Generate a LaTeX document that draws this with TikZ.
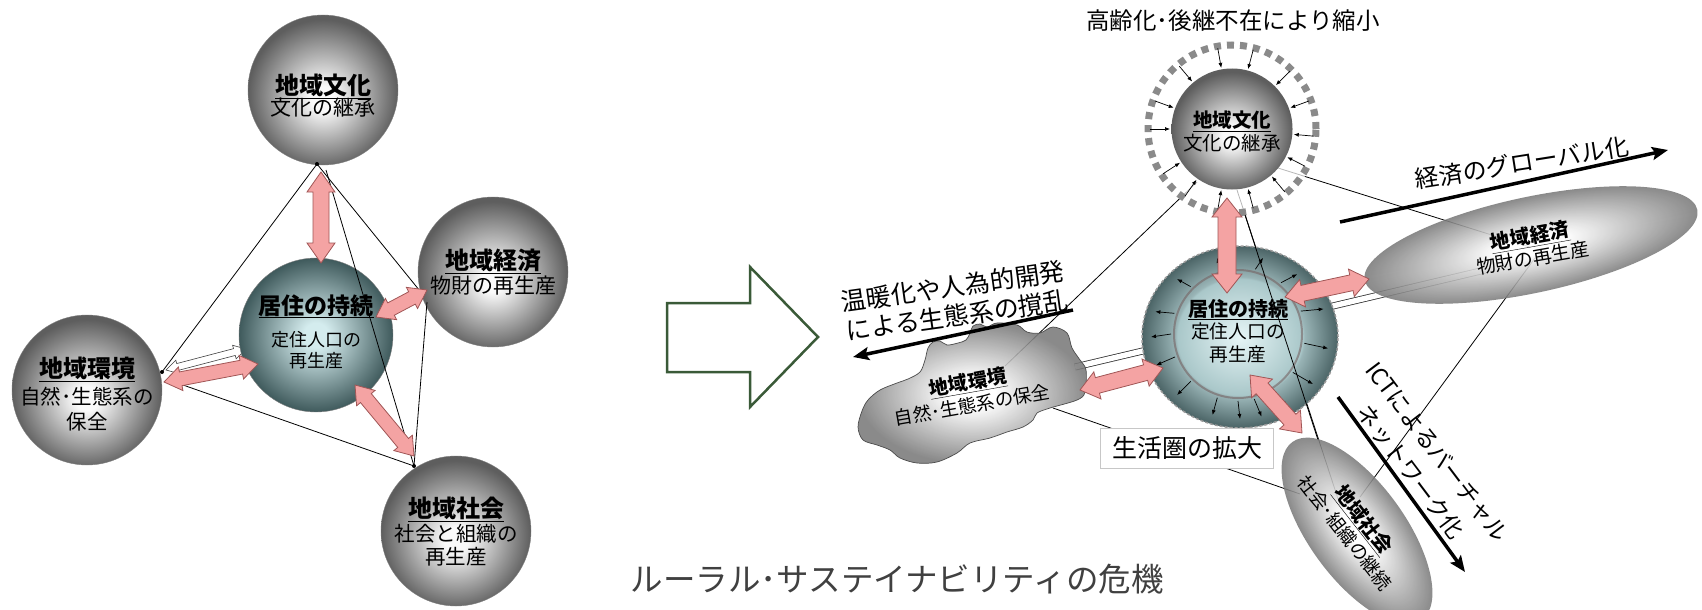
\documentclass[tikz,border=0pt]{standalone}
\usepackage{fontspec}
\setmainfont{Noto Sans CJK JP}
\usetikzlibrary{calc,arrows.meta}
\newcommand\fsz[1]{\fontsize{#1}{#1}\selectfont}
\definecolor{pinkf}{HTML}{F4A3A3}
\definecolor{pinkd}{HTML}{A05656}
\definecolor{ggA}{HTML}{FAFAFA}
\definecolor{ggB}{HTML}{5E5E5E}
\definecolor{tA}{HTML}{D4ECEE}
\definecolor{tB}{HTML}{3F5A5C}
\definecolor{rA}{HTML}{E6F5F6}
\definecolor{rB}{HTML}{A9C7C9}
\definecolor{rC}{HTML}{9AB5B7}
\definecolor{rD}{HTML}{4B6466}
\definecolor{eB}{HTML}{7A7A7A}
\definecolor{arrg}{HTML}{3A5A38}
\definecolor{ringg}{HTML}{8A8A8A}
\pgfdeclareradialshading{gballsh}{\pgfpoint{0bp}{-3bp}}{color(0bp)=(ggA); color(4bp)=(ggA); color(25bp)=(ggB); color(50bp)=(ggB)}
\pgfdeclareradialshading{tballsh}{\pgfpoint{0bp}{0bp}}{color(0bp)=(tA); color(4bp)=(tA); color(25bp)=(tB); color(50bp)=(tB)}
\pgfdeclareradialshading{tringsh}{\pgfpoint{0bp}{0bp}}{color(0bp)=(rA); color(16bp)=(rB); color(16.5bp)=(rC); color(25bp)=(rD); color(50bp)=(rD)}
\pgfdeclareradialshading{gellsh}{\pgfpoint{0bp}{0bp}}{color(0bp)=(white); color(5bp)=(white); color(25bp)=(eB); color(50bp)=(eB)}
\newcommand{\dblarr}[6][pinkarr]{%
  \path[#1] let \p1=($(#3)-(#2)$), \n1={atan2(\y1,\x1)}, \n2={veclen(\x1,\y1)} in
  (#2) -- ($(#2)+(\n1:#6)+(\n1+90:#5)$) -- ($(#2)+(\n1:#6)+(\n1+90:#4)$)
  -- ($(#2)+(\n1:\n2-#6)+(\n1+90:#4)$) -- ($(#2)+(\n1:\n2-#6)+(\n1+90:#5)$) -- (#3)
  -- ($(#2)+(\n1:\n2-#6)+(\n1-90:#5)$) -- ($(#2)+(\n1:\n2-#6)+(\n1-90:#4)$)
  -- ($(#2)+(\n1:#6)+(\n1-90:#4)$) -- ($(#2)+(\n1:#6)+(\n1-90:#5)$) -- cycle;}
\tikzset{
  pinkarr/.style={fill=pinkf, draw=pinkd, line width=0.8pt, line join=miter},
  ghostarr/.style={fill=white, draw=black!75, line width=0.6pt},
  thinline/.style={draw=black, line width=0.8pt},
  smallarr/.style={-{Latex[length=5pt,width=4pt]}, line width=0.7pt},
  bigarr/.style={line width=3.5pt, -{Stealth[length=16pt,width=13pt,inset=3pt]}},
  gball/.style={circle, shade, shading=gballsh, draw=black!50, line width=0.4pt, inner sep=0pt},
  tball/.style={circle, shade, shading=tballsh, draw=black!50, line width=0.4pt, inner sep=0pt},
  lt/.style={font=\fsz{24}\bfseries, anchor=base, inner sep=0pt},
  ls/.style={font=\fsz{21}, anchor=base, inner sep=0pt},
  rt/.style={font=\fsz{20}\bfseries, inner sep=0pt},
  rs/.style={font=\fsz{19}, inner sep=0pt},
  dot/.style={fill=black, circle, inner sep=0pt, minimum size=5pt}
}
\begin{document}
\begin{tikzpicture}[x=1pt,y=1pt]
\useasboundingbox (0,0) rectangle (1702,-610);
% ================= LEFT =================
\coordinate (Lp) at (317,-164);
\coordinate (Lp2) at (326,-170);
\coordinate (LE) at (162,-372);
\coordinate (LE2) at (183,-385);
\coordinate (LC) at (424,-296);
\coordinate (LC2) at (427,-302);
\coordinate (LS) at (414,-466);
% ghost arrow
\coordinate (lg1) at (166,-370); \coordinate (lg2) at (246,-349);
\dblarr[ghostarr]{lg1}{lg2}{3.5}{7}{12}
% balls
\node[gball, minimum size=150] (lcult) at (323,-90) {};
\node[gball, minimum size=150] (lecon) at (493,-272) {};
\node[gball, minimum size=150] (lenv) at (87,-390) {};
\node[gball, minimum size=150] (lsoc) at (456,-531) {};
\node[tball, minimum size=154] (lcent) at (316,-335) {};
% lines
\draw[thinline] (Lp) -- (LE);
\draw[thinline] (Lp) -- (LC);
\draw[thinline] (Lp2) -- (LS);
\draw[thinline] (LE2) -- (LS);
\draw[thinline] (LC2) -- (LS);
\node[dot, minimum size=4pt] (dp) at (Lp) {};
\node[dot, minimum size=4pt] (de) at (LE) {};
\node[dot, minimum size=4pt] (ds) at (LS) {};
% pink arrows
\coordinate (la1) at (321,-172); \coordinate (la2) at (321,-263);
\coordinate (lb1) at (376,-317); \coordinate (lb2) at (427,-290);
\coordinate (lc1) at (164,-382); \coordinate (lc2) at (258,-364);
\coordinate (ld1) at (355,-385); \coordinate (ld2) at (414,-456);
\dblarr{la1}{la2}{8}{14}{20}
\dblarr{lb1}{lb2}{7}{12}{17}
\dblarr{lc1}{lc2}{7}{12}{17}
\dblarr{ld1}{ld2}{7}{12}{17}
% texts
\node[lt] (lcultT) at (323,-94) {\underline{地域文化}};
\node[ls] (lcultS) at (323,-115) {文化の継承};
\node[lt] (leconT) at (493,-269) {\underline{地域経済}};
\node[ls] (leconS) at (493,-293) {物財の再生産};
\node[lt, font=\fsz{23}\bfseries] (lcentT) at (316,-314) {\underline{居住の持続}};
\node[ls, font=\fsz{18}] (lcentS) at (316,-346) {定住人口の};
\node[ls, font=\fsz{18}] (lcentS2) at (316,-367) {再生産};
\node[lt] (lenvT) at (87,-377) {\underline{地域環境}};
\node[ls, font=\fsz{20.5}] (lenvS) at (87,-404) {自然･生態系の};
\node[ls, font=\fsz{20.5}] (lenvS2) at (87,-429) {保全};
\node[lt] (lsocT) at (456,-517) {\underline{地域社会}};
\node[ls, font=\fsz{20.5}] (lsocS) at (456,-541) {社会と組織の};
\node[ls, font=\fsz{20.5}] (lsocS2) at (456,-564) {再生産};
% ================= BIG ARROW =================
\draw[arrg, line width=2.5pt, line join=miter] (667,-303) -- (750,-303) -- (750,-267) -- (818,-337) -- (750,-407) -- (750,-372) -- (667,-372) -- cycle;
% ================= RIGHT =================
\coordinate (cult2) at (1232,-129);
\coordinate (cent2) at (1240,-337);
\coordinate (cin) at (1238,-334);
\coordinate (econ2) at (1531,-245);
\coordinate (soc2) at (1357,-531);
% connector lines
\coordinate (r1a) at (1197,-182); \coordinate (r1b) at (1005,-366);
\coordinate (r2a) at (1278,-168); \coordinate (r2b) at (1530,-247);
\coordinate (r3a) at (1237,-190); \coordinate (r3b) at (1340,-505);
\coordinate (r3c) at (1245,-215); \coordinate (r3d) at (1318,-440);
\coordinate (r4a) at (1053,-408); \coordinate (r4b) at (1300,-494);
\coordinate (r5a) at (1535,-258); \coordinate (r5b) at (1360,-497);
\coordinate (bnd1) at (1075,-367); \coordinate (bnd2) at (1485,-270);
\draw[thinline] (r1a) -- (r1b);
\draw[thinline] (r2a) -- (r2b);
\draw[thinline] (r3a) -- (r3b);
\draw[thinline] (r4a) -- (r4b);
\draw[thinline] (r5a) -- (r5b);
\draw[black!80, line width=7pt] (bnd1) -- (bnd2);
\draw[white, line width=5.4pt] (bnd1) -- (bnd2);
% culture ring
\fill[white, fill opacity=0.72] (cult2) circle (87);
\draw[ringg, line width=7pt, dash pattern=on 7pt off 6pt] (cult2) circle (84);
\node[gball, minimum size=121, draw=none] (rcult) at (cult2) {};
\foreach \a in {100,75,45,20,-5,-27,-50,-75,-100,-125,-147,180,160,130}
  \draw[smallarr] ($(cult2)+(\a:82)$) -- ($(cult2)+(\a:62)$);
\node[rt, font=\fsz{19.5}\bfseries, anchor=base] (rcultT) at (1232,-127.5) {\underline{地域文化}};
\node[rs, font=\fsz{19.5}, anchor=base] (rcultS) at (1232,-150) {文化の継承};
% centre
\shade[shading=tringsh] (cent2) ellipse [x radius=98, y radius=91];
\draw[black!40, line width=1.5pt, dash pattern=on 3pt off 2pt] (cent2) ellipse [x radius=98, y radius=91];
\draw[black!35!pinkd!40!gray, line width=2pt, opacity=0.6] (cin) circle (64);
\foreach \a in {105,75,50,20,-8,-35,-58,-76,-90,-108,-135,-160,180,162,135}
  \draw[smallarr] ($(cin)+(\a:67)$) -- ($(cent2)+(\a:89 and 82)$);
\draw[thinline] (r3c) -- (r3d);
\node[rt, anchor=base] (rcentT) at (1238,-316) {\underline{居住の持続}};
\node[rs, font=\fsz{18.7}, anchor=base] (rcentS) at (1238,-338) {定住人口の};
\node[rs, font=\fsz{18.7}, anchor=base] (rcentS2) at (1238,-361) {再生産};
% environment cloud
\shadedraw[shading=gellsh, draw=black!70, line width=0.7pt, fill opacity=0.88] plot[smooth cycle, tension=0.55] coordinates {
 (858,-427) (863,-440) (877,-445) (890,-450) (900,-458) (917,-463) (937,-462) (957,-453) (970,-443) (990,-438) (1007,-432) (1023,-427) (1033,-420) (1037,-413) (1050,-408) (1077,-400) (1085,-392) (1086,-370) (1080,-360) (1072,-348) (1067,-333) (1053,-327) (1040,-333) (1027,-332) (1017,-325) (997,-323) (987,-327) (980,-324) (973,-326) (970,-333) (966,-340) (958,-343) (947,-345) (940,-341) (933,-342) (928,-348) (925,-360) (920,-372) (908,-379) (897,-383) (880,-390) (868,-400) (862,-411)};
\node[rt, font=\fsz{19.5}\bfseries, rotate=10] (renvT) at (968,-383) {\underline{地域環境}};
\node[rs, font=\fsz{18.5}, rotate=10] (renvS) at (972,-405) {自然･生態系の保全};
% economy ellipse
\begin{scope}[transform canvas={shift={(1531pt,-245pt)}, rotate=12}]
  \shade[shading=gellsh, fill opacity=0.88] (0,0) ellipse [x radius=170, y radius=48];
\end{scope}
\node[rt, rotate=10] (reconT) at (1530,-237) {\underline{地域経済}};
\node[rs, rotate=10] (reconS) at (1533,-258) {物財の再生産};
% society ellipse
\begin{scope}[transform canvas={shift={(1357pt,-531pt)}, rotate=-54}]
  \shade[shading=gellsh, fill opacity=0.88] (0,0) ellipse [x radius=110, y radius=48];
\end{scope}
\node[rt, rotate=-52] (rsocT) at (1363,-520) {\underline{地域社会}};
\node[rs, font=\fsz{18.5}, rotate=-52] (rsocS) at (1345,-533) {社会･組織の継続};
% pink arrows right
\coordinate (ra1) at (1227,-198); \coordinate (ra2) at (1227,-293);
\coordinate (rb1) at (1285,-297); \coordinate (rb2) at (1369,-279);
\coordinate (rc1) at (1080,-390); \coordinate (rc2) at (1163,-368);
\coordinate (rd1) at (1250,-375); \coordinate (rd2) at (1302,-433);
\dblarr{ra1}{ra2}{9}{15}{19}
\dblarr{rb1}{rb2}{8}{14}{18}
\dblarr{rc1}{rc2}{8}{14}{18}
\dblarr{rd1}{rd2}{8}{14}{18}
% box
\node[draw=black!22, fill=white, font=\fsz{25}, minimum width=173, minimum height=40, inner sep=0pt] (tbox) at (1187,-448) {生活圏の拡大};
% trend arrows
\coordinate (g1) at (1340,-222); \coordinate (g2) at (1668,-150);
\coordinate (w1) at (1073,-310); \coordinate (w2) at (853,-357);
\coordinate (i1) at (1338,-397); \coordinate (i2) at (1465,-572);
\draw[bigarr] (g1) -- (g2);
\draw[bigarr] (w1) -- (w2);
\draw[bigarr] (i1) -- (i2);
\node[font=\fsz{24}, rotate=9, inner sep=0pt] (tglob) at (1522,-163) {経済のグローバル化};
\node[font=\fontsize{25}{29}\selectfont, rotate=8, align=center, inner sep=0pt] (twarm) at (955,-301) {温暖化や人為的開発\\による生態系の撹乱};
\node[font=\fontsize{23}{33}\selectfont, rotate=-53, align=center, inner sep=0pt] (tict) at (1424,-462) {ICTによるバーチャル\\ネットワーク化};
\node[font=\fsz{23.5}, inner sep=0pt] (tshrink) at (1233,-21) {高齢化･後継不在により縮小};
\node[font=\fsz{32.5}, text=black!75, inner sep=0pt] (title) at (897,-579) {ルーラル･サステイナビリティの危機};
\end{tikzpicture}
\end{document}
